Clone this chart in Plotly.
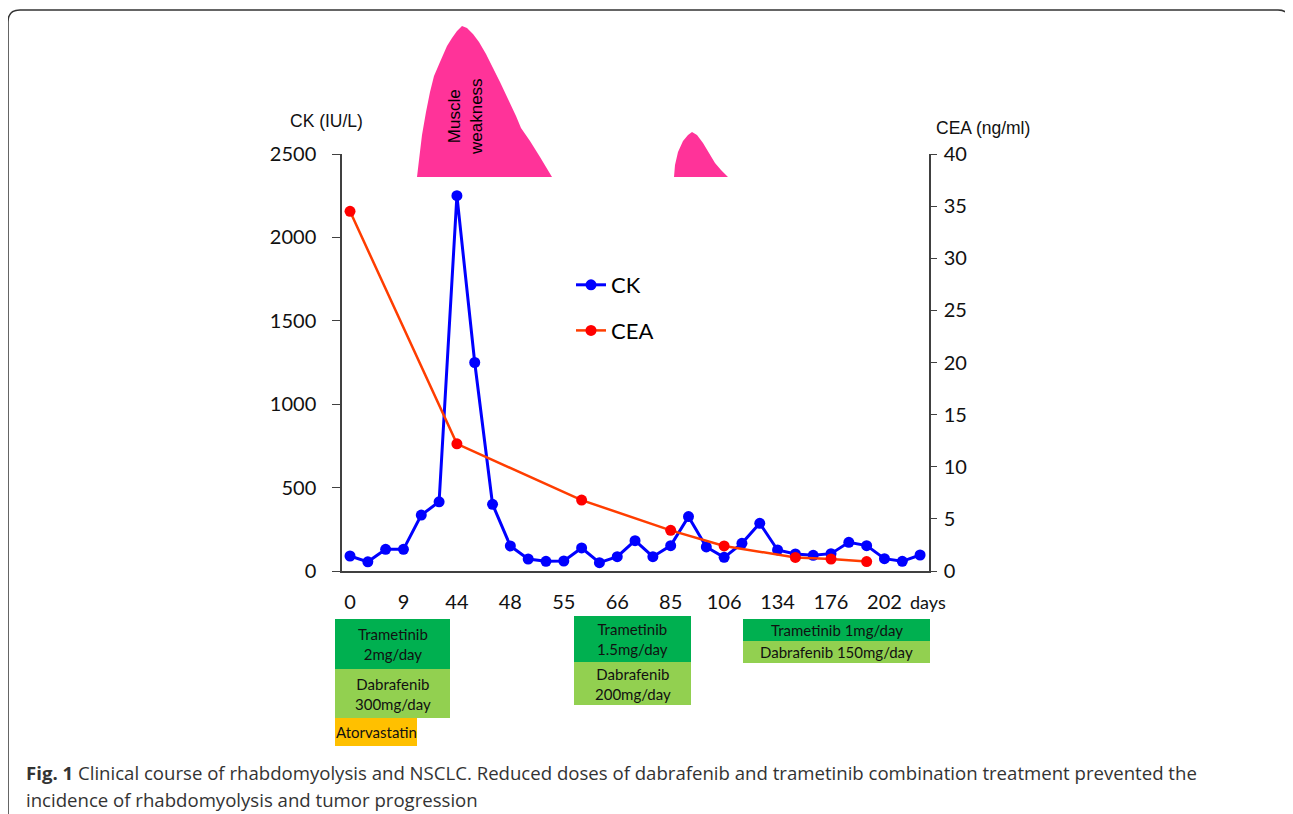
import plotly.graph_objects as go

# ---------------- data ----------------
day_labels = ["0", "9", "44", "48", "55", "66", "85", "106", "134", "176", "202"]
ck_index = list(range(33))
ck_values = [90, 55, 130, 130, 335, 415, 2250, 1250, 400, 150, 72, 58, 60, 138, 50, 86,
             182, 86, 152, 326, 144, 82, 166, 286, 126, 102, 94, 104, 172, 152, 74, 58, 96]
cea_index = [0, 6, 13, 18, 21, 25, 27, 29]
cea_values = [34.5, 12.2, 6.8, 3.9, 2.4, 1.3, 1.15, 0.9]
label_index = list(range(0, 33, 3))

# ---------------- geometry helpers (reference pixel -> paper) ----------------
OFF = 8  # page body margin
W, H = 1293 - OFF, 814 - OFF
L, R, T, B = 342, 929, 154, 571


def px(x):
    return (x - L) / (R - L)


def py(y):
    return (B - y) / (B - T)


fig = go.Figure()
fig.add_trace(go.Scatter(
    x=ck_index, y=ck_values, name="CK", mode="lines+markers",
    line=dict(color="#0000FF", width=3), marker=dict(color="#0000FF", size=11),
    legendgroup="a", yaxis="y"))
fig.add_trace(go.Scatter(
    x=cea_index, y=cea_values, name="CEA", mode="lines+markers",
    line=dict(color="#FF3D00", width=2.5), marker=dict(color="#FF0000", size=11),
    legendgroup="b", yaxis="y2"))

shapes = []
annotations = []


def note(x, y, text, font, **kw):
    d = dict(x=px(x), y=py(y), xref="paper", yref="paper", text=text, showarrow=False,
             xanchor="center", yanchor="middle", font=font)
    d.update(kw)
    annotations.append(d)


# frame
r = 12
fx0, fy0, fx1, fy1 = 8, 10, 1290, 840
frame = (f"M {px(fx0)},{py(fy0 + r)} Q {px(fx0)},{py(fy0)} {px(fx0 + r)},{py(fy0)} "
         f"L {px(fx1 - r)},{py(fy0)} Q {px(fx1)},{py(fy0)} {px(fx1)},{py(fy0 + r)} "
         f"L {px(fx1)},{py(fy1)} M {px(fx0)},{py(fy0 + r)} L {px(fx0)},{py(fy1)}")
shapes.append(dict(type="path", xref="paper", yref="paper", path=frame,
                   line=dict(color="#333333", width=1.5)))

# pink muscle weakness shapes
big = [(417, 177), (419, 160), (422, 135), (426, 112), (430, 92), (434, 76), (440, 62),
       (447, 46), (452, 38), (457, 31), (462, 26), (467, 28), (473, 34), (479, 42),
       (486, 54), (493, 68), (500, 82), (508, 99), (516, 116), (521, 128), (530, 141),
       (540, 157), (552, 177)]
small = [(674, 177), (675, 165), (678, 152), (683, 141), (688, 135), (692, 132), (697, 135),
         (703, 143), (709, 153), (715, 163), (721, 170), (728, 177)]
for pts in (big, small):
    path = "M " + " L ".join(f"{px(a)},{py(b)}" for a, b in pts) + " Z"
    shapes.append(dict(type="path", xref="paper", yref="paper", path=path,
                       fillcolor="#FF3399", line=dict(width=0)))
note(465, 117, "Muscle<br>weakness",
     dict(family="Liberation Sans, Arial", size=17, color="black"), textangle=-90)

# treatment boxes
DG, LG, OR = "#00B050", "#92D050", "#FFC000"
boxes = [
    (335, 619, 450, 669, DG, "Trametinib<br>2mg/day"),
    (335, 669, 450, 718, LG, "Dabrafenib<br>300mg/day"),
    (335, 718, 417, 746, OR, "Atorvastatin"),
    (574, 616, 691, 662, DG, "Trametinib<br>1.5mg/day"),
    (574, 662, 691, 705, LG, "Dabrafenib<br>200mg/day"),
    (743, 619, 930, 641, DG, "Trametinib 1mg/day"),
    (743, 641, 930, 663, LG, "Dabrafenib 150mg/day"),
]
boxfont = dict(family="Lato", size=15, color="#111111")
for x0, y0, x1, y1, c, t in boxes:
    shapes.append(dict(type="rect", xref="paper", yref="paper", x0=px(x0), x1=px(x1),
                       y0=py(y0), y1=py(y1), fillcolor=c, line=dict(width=0), layer="below"))
    note((x0 + x1) / 2, (y0 + y1) / 2, t, boxfont)

# axis titles
titlefont = dict(family="Liberation Sans, Arial", size=17.5, color="#111")
note(326, 121, "CK (IU/L)", titlefont)
note(983, 128, "CEA (ng/ml)", titlefont)
note(928, 602, "days", dict(family="Lato", size=18, color="#111"))

# caption
capfont = dict(family="Open Sans", size=18.6, color="#333333")
note(24, 772, "<b>Fig. 1</b> Clinical course of rhabdomyolysis and NSCLC. Reduced doses of dabrafenib and trametinib combination treatment prevented the",
     capfont, xanchor="left")
note(24, 799, "incidence of rhabdomyolysis and tumor progression", capfont, xanchor="left")

tickfont = dict(family="Lato", size=20, color="#111111")
fig.update_layout(
    width=W, height=H, autosize=False,
    margin=dict(l=L - OFF, r=1293 - R, t=T - OFF, b=814 - B),
    paper_bgcolor="white", plot_bgcolor="white",
    showlegend=True,
    legend=dict(x=px(571), y=py(264), xanchor="left", yanchor="top",
                font=dict(family="Lato", size=22, color="black"),
                bgcolor="rgba(0,0,0,0)", tracegroupgap=14),
    xaxis=dict(range=[-0.45, 32.5], tickvals=label_index, ticktext=day_labels,
               showline=True, linecolor="#404040", linewidth=1.5, ticks="",
               showgrid=False, zeroline=False, tickfont=tickfont, ticklabelstandoff=12),
    yaxis=dict(range=[0, 2500], dtick=500, showline=True, linecolor="#404040", linewidth=1.5,
               ticks="outside", ticklen=8, tickcolor="#404040", showgrid=False, zeroline=False,
               tickfont=tickfont, ticklabelstandoff=12),
    yaxis2=dict(range=[0, 40], dtick=5, overlaying="y", side="right", showline=True,
                linecolor="#404040", linewidth=1.5, ticks="outside", ticklen=6,
                tickcolor="#404040", showgrid=False, zeroline=False, tickfont=tickfont,
                ticklabelstandoff=3),
    shapes=shapes, annotations=annotations,
)

fig.write_html("out.html")
